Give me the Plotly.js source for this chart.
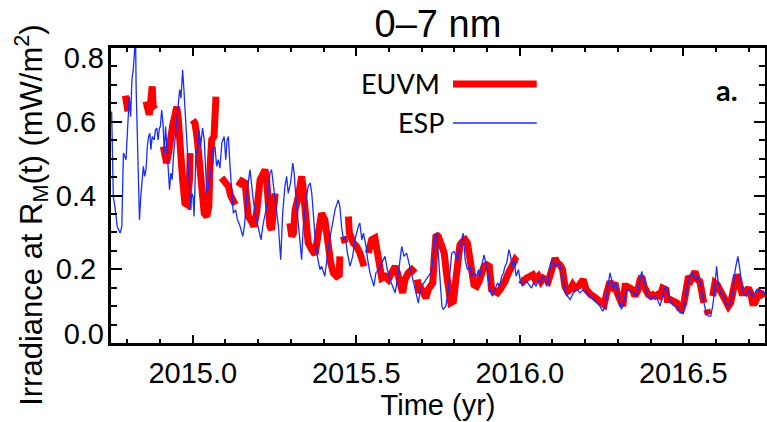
<!DOCTYPE html>
<html>
<head>
<meta charset="utf-8">
<script src="https://cdn.plot.ly/plotly-3.0.1.min.js"></script>
<style>html,body{margin:0;padding:0;background:#fff;}#chart{width:767px;height:422px;}</style>
</head>
<body>
<div id="chart"></div>
<script>
// ESP (blue, thin) — decimal year / irradiance (mW/m^2)
var espT = [2014.752,2014.757,2014.762,2014.769,2014.778,2014.783,2014.788,2014.793,2014.796,2014.800,2014.806,2014.810,2014.814,2014.818,2014.822,2014.825,2014.827,2014.833,2014.837,2014.841,2014.845,2014.849,2014.853,2014.857,2014.861,2014.865,2014.869,2014.872,2014.876,2014.882,2014.886,2014.890,2014.894,2014.898,2014.901,2014.905,2014.909,2014.913,2014.917,2014.921,2014.925,2014.929,2014.933,2014.937,2014.941,2014.946,2014.951,2014.956,2014.960,2014.964,2014.969,2014.973,2014.979,2014.984,2014.990,2014.994,2014.997,2015.001,2015.004,2015.010,2015.014,2015.019,2015.024,2015.030,2015.035,2015.043,2015.048,2015.055,2015.062,2015.068,2015.073,2015.078,2015.083,2015.089,2015.096,2015.101,2015.105,2015.109,2015.114,2015.119,2015.124,2015.131,2015.137,2015.145,2015.153,2015.158,2015.167,2015.175,2015.180,2015.185,2015.195,2015.206,2015.209,2015.214,2015.221,2015.228,
2015.236,2015.241,2015.252,2015.262,2015.269,2015.275,2015.282,2015.287,2015.292,2015.299,2015.306,2015.310,2015.316,2015.320,2015.326,2015.330,2015.333,2015.338,2015.346,2015.353,2015.359,2015.364,2015.369,2015.376,2015.381,2015.389,2015.394,2015.404,2015.415,2015.425,2015.435,2015.445,2015.450,2015.455,2015.461,2015.466,2015.473,2015.481,2015.489,2015.496,2015.506,2015.511,2015.517,2015.522,2015.530,2015.535,2015.542,2015.554,2015.560,2015.568,2015.578,2015.588,2015.595,2015.603,2015.619,2015.629,2015.639,2015.646,2015.654,2015.664,2015.673,2015.683,2015.690,
2015.693,2015.700,2015.707,2015.713,2015.720,2015.728,2015.734,2015.741,2015.746,2015.750,2015.756,2015.762,2015.766,2015.774,2015.782,2015.787,2015.792,2015.799,2015.805,2015.810,2015.815,2015.820,2015.827,2015.833,2015.840,2015.848,2015.853,2015.860,2015.868,2015.874,2015.878,2015.884,2015.891,2015.897,2015.901,2015.906,2015.911,2015.917,2015.924,2015.932,2015.938,2015.945,2015.950,2015.955,2015.960,2015.967,2015.972,2015.977,2015.982,2015.989,2015.996,2016.001,2016.008,2016.013,2016.021,2016.031,2016.036,2016.042,2016.050,2016.057,2016.064,2016.070,2016.077,2016.082,2016.087,2016.095,2016.101,2016.108,2016.115,2016.123,2016.128,2016.133,2016.138,2016.146,2016.154,2016.164,2016.174,2016.184,
2016.194,2016.205,2016.215,2016.225,2016.235,2016.245,2016.254,2016.261,2016.268,2016.276,2016.283,2016.286,2016.293,2016.298,2016.305,2016.311,2016.317,2016.324,2016.329,2016.337,2016.347,2016.356,2016.362,2016.368,2016.373,2016.380,2016.386,2016.393,2016.403,2016.414,2016.421,2016.429,2016.439,2016.447,2016.454,2016.462,2016.472,2016.482,2016.490,2016.500,2016.509,2016.516,2016.521,2016.529,2016.536,2016.541,2016.546,2016.553,2016.561,2016.570,2016.577,2016.584,2016.590,2016.595,2016.602,2016.607,2016.615,2016.623,2016.631,2016.639,2016.645,2016.653,2016.659,2016.667,2016.672,2016.678,2016.684,2016.694,2016.700,2016.706,2016.712,2016.719,2016.725,2016.735,2016.750];
var espV = [0.628,0.397,0.370,0.316,0.298,0.316,0.515,0.506,0.497,0.569,0.668,0.614,0.714,0.741,0.804,0.830,0.687,0.461,0.334,0.397,0.443,0.479,0.452,0.470,0.533,0.560,0.569,0.524,0.560,0.551,0.578,0.583,0.551,0.583,0.587,0.632,0.596,0.515,0.587,0.524,0.479,0.416,0.461,0.443,0.506,0.551,0.596,0.641,0.687,0.664,0.741,0.687,0.596,0.506,0.416,0.361,0.406,0.397,0.343,0.524,0.515,0.578,0.533,0.583,0.551,0.406,0.425,0.461,0.524,0.533,0.479,0.497,0.474,0.542,0.560,0.497,0.551,0.560,0.479,0.406,0.352,0.361,0.334,0.316,0.289,0.316,0.416,0.470,0.434,0.388,0.334,0.289,0.280,0.316,0.352,0.379,
0.461,0.470,0.388,0.316,0.226,0.352,0.425,0.452,0.406,0.434,0.488,0.461,0.388,0.352,0.298,0.262,0.226,0.316,0.388,0.425,0.434,0.406,0.334,0.262,0.235,0.199,0.208,0.181,0.262,0.316,0.361,0.388,0.370,0.316,0.280,0.289,0.244,0.208,0.235,0.280,0.316,0.325,0.280,0.298,0.262,0.226,0.190,0.154,0.190,0.199,0.217,0.235,0.199,0.172,0.136,0.190,0.262,0.235,0.244,0.208,0.172,0.136,0.108,
0.127,0.154,0.163,0.172,0.181,0.190,0.217,0.289,0.298,0.253,0.163,0.100,0.091,0.100,0.145,0.199,0.244,0.248,0.235,0.226,0.253,0.271,0.298,0.226,0.199,0.208,0.181,0.190,0.181,0.199,0.181,0.212,0.239,0.212,0.199,0.163,0.136,0.127,0.145,0.163,0.154,0.181,0.190,0.208,0.217,0.253,0.235,0.208,0.226,0.181,0.199,0.172,0.154,0.163,0.167,0.154,0.149,0.163,0.154,0.172,0.163,0.181,0.172,0.154,0.163,0.217,0.226,0.208,0.217,0.212,0.190,0.163,0.145,0.127,0.118,0.136,0.145,0.136,
0.145,0.136,0.127,0.118,0.109,0.100,0.086,0.100,0.145,0.190,0.163,0.145,0.163,0.145,0.118,0.091,0.109,0.136,0.145,0.140,0.136,0.127,0.145,0.172,0.194,0.172,0.145,0.127,0.118,0.127,0.118,0.100,0.136,0.154,0.136,0.109,0.100,0.100,0.082,0.082,0.127,0.172,0.181,0.190,0.176,0.172,0.181,0.163,0.118,0.082,0.073,0.073,0.100,0.136,0.208,0.163,0.136,0.127,0.109,0.100,0.109,0.145,0.199,0.235,0.208,0.163,0.136,0.127,0.145,0.136,0.127,0.136,0.145,0.140,0.136];

// EUVM (red, thick) — null marks a data gap
var euvmT = [2014.794,2014.798,2014.802,null,
2014.857,2014.862,2014.867,2014.871,2014.873,2014.876,2014.879,2014.885,null,
2014.910,2014.913,2014.920,2014.926,2014.932,2014.939,2014.946,2014.951,2014.956,2014.961,2014.969,2014.976,2014.983,2014.990,2014.992,null,
2015.000,2015.007,2015.014,2015.019,2015.024,2015.030,2015.035,2015.043,2015.049,2015.053,2015.058,2015.065,2015.068,2015.071,null,
2015.088,2015.099,2015.109,2015.116,2015.124,2015.130,null,
2015.139,2015.150,2015.160,2015.165,2015.170,2015.180,2015.187,2015.195,2015.201,2015.206,2015.214,2015.221,2015.226,2015.231,2015.236,2015.241,2015.246,2015.252,null,
2015.297,2015.303,2015.308,2015.313,2015.323,2015.328,2015.333,2015.338,2015.343,2015.348,2015.353,2015.364,2015.374,2015.384,2015.394,2015.404,2015.410,2015.415,2015.422,2015.430,2015.440,2015.448,2015.450,null,
2015.461,2015.466,null,
2015.476,2015.479,2015.491,2015.501,2015.511,2015.519,2015.524,null,
2015.537,2015.547,2015.557,2015.564,2015.571,2015.578,2015.588,2015.598,2015.608,2015.619,2015.626,2015.634,2015.642,2015.649,2015.659,2015.670,2015.677,2015.680,null,
2015.687,2015.693,2015.700,2015.707,2015.713,2015.720,2015.728,2015.734,2015.738,2015.744,2015.751,2015.761,2015.769,2015.777,2015.782,2015.789,2015.797,2015.804,2015.810,2015.817,2015.825,2015.833,2015.840,2015.846,2015.853,2015.860,2015.868,2015.876,2015.884,2015.891,2015.899,2015.907,2015.914,2015.924,2015.932,2015.940,2015.948,2015.955,2015.963,2015.970,2015.978,2015.986,2015.991,null,
2016.001,2016.011,2016.021,2016.031,2016.040,2016.047,2016.057,2016.065,2016.072,2016.080,2016.087,2016.092,2016.101,2016.108,2016.115,2016.123,2016.131,2016.138,2016.146,2016.154,2016.162,2016.169,2016.179,2016.186,2016.194,2016.203,2016.210,2016.217,2016.225,2016.235,2016.243,2016.251,2016.258,2016.266,2016.271,2016.276,2016.284,2016.291,2016.298,2016.307,2016.315,2016.322,2016.327,2016.337,2016.345,2016.352,2016.360,2016.368,2016.373,2016.380,2016.386,2016.393,2016.400,2016.407,2016.414,2016.421,2016.429,2016.437,2016.447,2016.451,2016.460,2016.470,2016.480,2016.488,2016.495,2016.502,2016.511,2016.516,2016.524,2016.531,2016.536,2016.543,2016.551,2016.559,2016.563,null,
2016.572,2016.577,null,
2016.590,2016.597,2016.604,2016.612,2016.623,2016.631,2016.638,2016.645,2016.651,2016.658,2016.663,2016.669,2016.674,2016.679,2016.689,2016.699,2016.706,2016.712,2016.719,2016.725,2016.733,2016.740,2016.750];
var euvmV = [0.671,0.648,0.628,null,
0.655,0.628,0.619,0.651,0.696,0.696,0.641,0.634,null,
0.533,0.512,0.488,0.515,0.560,0.592,0.619,0.641,0.605,0.524,0.443,0.379,0.375,0.443,0.515,null,
0.605,0.596,0.551,0.512,0.461,0.397,0.352,0.343,0.370,0.479,0.551,0.560,0.596,0.668,null,
0.448,0.439,0.425,0.400,0.379,0.375,null,
0.425,0.439,0.434,0.388,0.343,0.329,0.316,0.352,0.397,0.443,0.457,0.470,0.443,0.361,0.316,0.307,0.370,0.406,null,
0.325,0.289,0.298,0.361,0.397,0.443,0.452,0.416,0.352,0.298,0.271,0.253,0.240,0.298,0.352,0.334,0.298,0.244,0.217,0.190,0.181,0.185,0.235,null,
0.289,0.271,null,
0.343,0.298,0.271,0.262,0.244,0.221,0.208,null,
0.244,0.280,0.285,0.244,0.190,0.176,0.181,0.172,0.190,0.208,0.190,0.154,0.136,0.172,0.190,0.199,0.190,0.190,null,
0.172,0.136,0.145,0.127,0.122,0.145,0.158,0.163,0.226,0.294,0.289,0.266,0.244,0.181,0.127,0.109,0.113,0.163,0.235,0.266,0.275,0.280,0.271,0.235,0.181,0.158,0.154,0.167,0.190,0.208,0.212,0.208,0.145,0.140,0.136,0.145,0.154,0.167,0.185,0.199,0.217,0.226,0.221,null,
0.172,0.167,0.176,0.181,0.185,0.172,0.181,0.167,0.176,0.172,0.167,0.181,0.217,0.230,0.217,0.212,0.199,0.154,0.140,0.145,0.158,0.149,0.154,0.163,0.172,0.145,0.136,0.131,0.127,0.118,0.113,0.109,0.104,0.136,0.163,0.167,0.154,0.163,0.136,0.109,0.100,0.154,0.154,0.149,0.145,0.127,0.140,0.172,0.181,0.154,0.136,0.131,0.127,0.131,0.127,0.131,0.127,0.149,0.145,0.118,0.118,0.113,0.109,0.095,0.091,0.109,0.163,0.181,0.172,0.181,0.194,0.172,0.167,0.127,0.109,null,
0.091,0.077,null,
0.127,0.163,0.158,0.145,0.127,0.118,0.100,0.109,0.136,0.181,0.185,0.172,0.154,0.136,0.136,0.149,0.136,0.109,0.109,0.122,0.136,0.131,0.136];

var xTickVals = [2015.0, 2015.5, 2016.0, 2016.5];
var xTickText = ['2015.0', '2015.5', '2016.0', '2016.5'];
var yTickVals = [0.0, 0.2, 0.4, 0.6, 0.8];
var yTickText = ['0.0', '0.2', '0.4', '0.6', '0.8'];
var seriesNames = ['EUVM', 'ESP'];

var AX_FONT = 'Liberation Sans, Arial, sans-serif';
var LEG_FONT = 'Lato, Liberation Sans, sans-serif';
var TICK_SIZE = 29;

var traces = [
  {x: euvmT, y: euvmV, type: 'scatter', mode: 'lines', name: seriesNames[0],
   line: {color: 'rgb(255,0,0)', width: 7}, connectgaps: false, showlegend: false},
  {x: espT, y: espV, type: 'scatter', mode: 'lines', name: seriesNames[1],
   line: {color: 'rgb(25,45,255)', width: 1.3}, showlegend: false},
  {x: [null], y: [null], yaxis: 'y2', type: 'scatter', mode: 'lines', showlegend: false, hoverinfo: 'skip'},
  {x: [null], y: [null], yaxis: 'y3', type: 'scatter', mode: 'lines', showlegend: false, hoverinfo: 'skip'}
];

var layout = {
  width: 767, height: 422,
  margin: {l: 111, r: 2, t: 48, b: 79},
  paper_bgcolor: '#fff', plot_bgcolor: '#fff',
  showlegend: false,
  font: {family: AX_FONT, color: '#000'},
  title: {text: '0\u20137 nm', x: 0.571, xanchor: 'center', y: 0.943, yanchor: 'middle',
          font: {family: AX_FONT, size: 38, color: '#000'}},
  xaxis: {
    range: [2014.75, 2016.75], showgrid: false, zeroline: false,
    showline: true, linewidth: 3, linecolor: '#000', mirror: 'ticks',
    tickvals: xTickVals, ticktext: xTickText, ticks: 'inside', ticklen: 8, tickwidth: 2, tickcolor: '#000',
    minor: {dtick: 0.1, tick0: 2015, ticks: 'inside', ticklen: 4, tickwidth: 2, tickcolor: '#000', showgrid: false},
    tickfont: {family: AX_FONT, size: TICK_SIZE}, ticklabelstandoff: 2,
    title: {text: 'Time (yr)', font: {family: AX_FONT, size: 29}, standoff: 3}
  },
  yaxis: {
    range: [0, 0.8], showgrid: false, zeroline: false,
    showline: true, linewidth: 3, linecolor: '#000', mirror: 'ticks',
    tickvals: yTickVals.slice(1, 4), ticktext: yTickText.slice(1, 4), ticks: 'inside', ticklen: 11, tickwidth: 2, tickcolor: '#000',
    minor: {dtick: 0.05, tick0: 0, ticks: 'inside', ticklen: 6, tickwidth: 2, tickcolor: '#000', showgrid: false},
    tickfont: {family: AX_FONT, size: TICK_SIZE}, ticklabelstandoff: 6
  },
  yaxis2: {
    overlaying: 'y', anchor: 'x', side: 'left', range: [0, 0.8], showgrid: false, zeroline: false,
    showline: false, ticks: '', tickvals: [yTickVals[0]], ticktext: [yTickText[0]],
    tickfont: {family: AX_FONT, size: TICK_SIZE}, ticklabelshift: -9, ticklabelstandoff: 6
  },
  yaxis3: {
    overlaying: 'y', anchor: 'x', side: 'left', range: [0, 0.8], showgrid: false, zeroline: false,
    showline: false, ticks: '', tickvals: [yTickVals[4]], ticktext: [yTickText[4]],
    tickfont: {family: AX_FONT, size: TICK_SIZE}, ticklabelshift: 10, ticklabelstandoff: 6
  },
  annotations: [
    {xref: 'paper', yref: 'paper', x: -0.121, y: 0.434, xanchor: 'center', yanchor: 'middle', textangle: -90,
     text: 'Irradiance at R<sub>M</sub>(t) (mW/m<sup>2</sup>)', showarrow: false,
     font: {family: AX_FONT, size: 31, color: '#000'}},
    {xref: 'paper', yref: 'paper', x: 0.506, y: 0.878, xanchor: 'right', yanchor: 'middle',
     text: seriesNames[0], showarrow: false, font: {family: LEG_FONT, size: 27, color: '#000'}},
    {xref: 'paper', yref: 'paper', x: 0.512, y: 0.746, xanchor: 'right', yanchor: 'middle',
     text: seriesNames[1], showarrow: false, font: {family: LEG_FONT, size: 27, color: '#000'}},
    {xref: 'paper', yref: 'paper', x: 0.942, y: 0.861, xanchor: 'center', yanchor: 'middle',
     text: '<b>a.</b>', showarrow: false, font: {family: LEG_FONT, size: 29, color: '#000'}}
  ],
  shapes: [
    {type: 'line', xref: 'paper', yref: 'paper', x0: 0.523, x1: 0.651, y0: 0.878, y1: 0.878,
     line: {color: 'rgb(255,0,0)', width: 7}},
    {type: 'line', xref: 'paper', yref: 'paper', x0: 0.523, x1: 0.651, y0: 0.746, y1: 0.746,
     line: {color: 'rgb(25,45,255)', width: 1.5}}
  ]
};

Plotly.newPlot('chart', traces, layout, {staticPlot: true, displayModeBar: false});
</script>
</body>
</html>
